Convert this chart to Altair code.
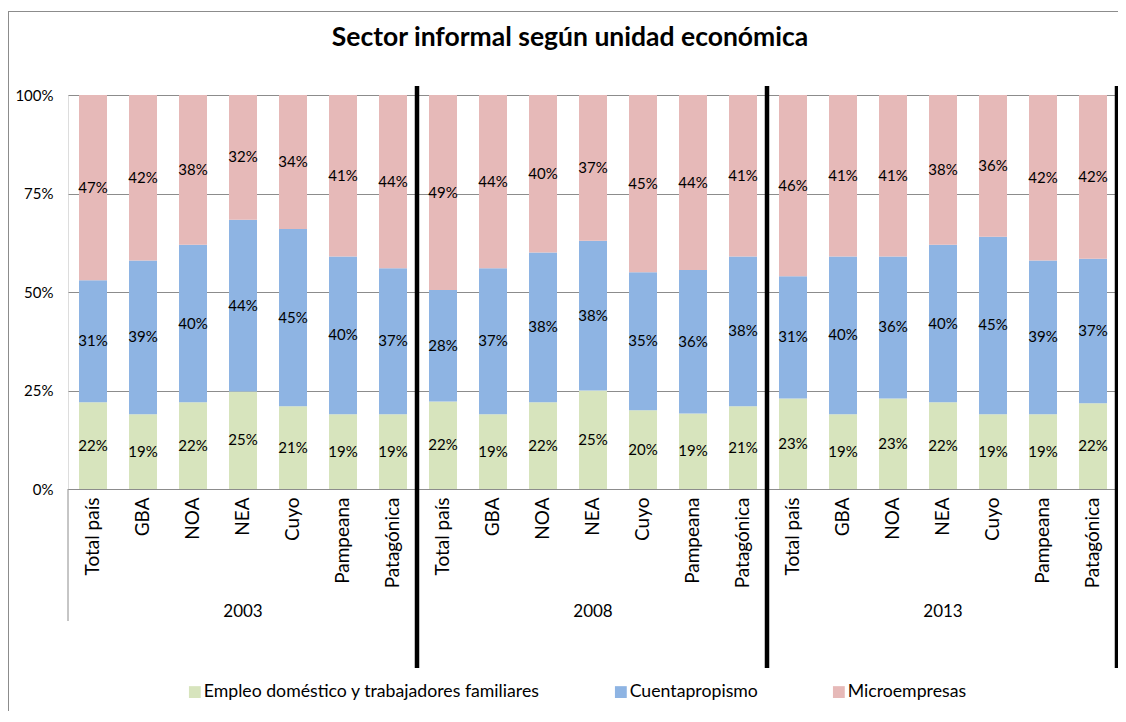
import altair as alt
import pandas as pd

years = ["2003", "2008", "2013"]
regions = ["Total país", "GBA", "NOA", "NEA", "Cuyo", "Pampeana", "Patagónica"]
series = ["Empleo doméstico y trabajadores familiares", "Cuentapropismo", "Microempresas"]
colors = ["#D7E4BD", "#8EB4E3", "#E6B9B8"]

empleo = [22, 19, 22, 25, 21, 19, 19,
          22, 19, 22, 25, 20, 19, 21,
          23, 19, 23, 22, 19, 19, 22]
cuenta = [31, 39, 40, 44, 45, 40, 37,
          28, 37, 38, 38, 35, 36, 38,
          31, 40, 36, 40, 45, 39, 37]
micro = [47, 42, 38, 32, 34, 41, 44,
         49, 44, 40, 37, 45, 44, 41,
         46, 41, 41, 38, 36, 42, 42]

FONT = "Lato"

keys = [f"{y}|{r}" for y in years for r in regions]
rows = []
for i, k in enumerate(keys):
    for s_i, (s, vals) in enumerate(zip(series, [empleo, cuenta, micro])):
        rows.append({"key": k, "serie": s, "order": s_i, "value": vals[i]})
df = pd.DataFrame(rows)

groups = pd.DataFrame({
    "year": years,
    "first": [f"{y}|{regions[0]}" for y in years],
    "last": [f"{y}|{regions[-1]}" for y in years],
    "mid": [f"{y}|{regions[len(regions)//2]}" for y in years],
})

W, H = 1050, 394
xscale = alt.Scale(domain=keys, paddingInner=0.44, paddingOuter=0.22)
x_enc = alt.X("key:N", scale=xscale, axis=alt.Axis(
    title=None, labelAngle=-90, labelExpr="split(datum.label, '|')[1]",
    ticks=False, tickSize=0, domainColor="#8c8c8c", domainWidth=1,
    labelFont=FONT, labelFontSize=19, labelColor="#000000", labelPadding=8))

base = alt.Chart(df).transform_stack(
    stack="value", groupby=["key"], as_=["v0", "v1"],
    sort=[alt.SortField("order")], offset="normalize"
).transform_calculate(mid="(datum.v0 + datum.v1) / 2", lab="datum.value + '%'")

bars = base.mark_bar().encode(
    x=x_enc,
    y=alt.Y("v0:Q", scale=alt.Scale(domain=[0, 1]), axis=alt.Axis(
        title=None, format="%", values=[0, 0.25, 0.5, 0.75, 1], domain=False,
        ticks=False, tickSize=0, gridColor="#8c8c8c", gridWidth=1,
        labelFont=FONT, labelFontSize=15, labelColor="#000000", labelPadding=15)),
    y2="v1:Q",
    color=alt.Color("serie:N", scale=alt.Scale(domain=series, range=colors),
                    legend=alt.Legend(title=None, orient="none", legendX=118, legendY=588,
                                      direction="horizontal", symbolType="square",
                                      symbolSize=140, symbolStrokeWidth=0,
                                      labelFont=FONT, labelFontSize=17.7, labelColor="#000000",
                                      labelLimit=0, columnPadding=72, labelOffset=0)),
    order=alt.Order("order:Q"),
)

labels = base.mark_text(font=FONT, fontSize=15, color="#000000", baseline="middle").encode(
    x=alt.X("key:N"),
    y=alt.Y("mid:Q"),
    text="lab:N",
)

gsep = alt.Chart(groups).mark_rule(color="#8c8c8c", strokeWidth=1, xOffset=-11).encode(
    x=alt.X("first:N", bandPosition=0),
    y=alt.value(H), y2=alt.value(H + 132),
)

thick = alt.Chart(groups).mark_rule(color="#000000", strokeWidth=4.5, xOffset=10).encode(
    x=alt.X("last:N", bandPosition=1),
    y=alt.value(-9), y2=alt.value(573),
)

yearlab = alt.Chart(groups).mark_text(font=FONT, fontSize=17, color="#000000", baseline="middle").encode(
    x=alt.X("mid:N"),
    y=alt.value(H + 123),
    text="year:N",
)

frame_top = alt.Chart(groups).mark_rule(color="#8c8c8c", strokeWidth=1).encode(
    x=alt.value(-59.5), x2=alt.value(W + 10), y=alt.value(-83.5),
)
frame_left = alt.Chart(groups).mark_rule(color="#8c8c8c", strokeWidth=1).encode(
    x=alt.value(-59.5), y=alt.value(-83.5), y2=alt.value(H + 230),
)

chart = alt.layer(bars, labels, gsep, thick, yearlab, frame_top, frame_left).properties(
    width=W, height=H,
    autosize=alt.AutoSizeParams(type="none"),
    padding={"left": 60, "top": 87, "right": 0, "bottom": 222},
    title=alt.TitleParams(
        "Sector informal según unidad económica", font=FONT, fontSize=26.5,
        fontWeight="bold", color="#000000", anchor="middle", frame="group",
        dx=-23, offset=-61, baseline="alphabetic"),
).configure_view(stroke=None).configure(background="white")

chart.save("out.html", embed_options={"renderer": "svg", "actions": False})
